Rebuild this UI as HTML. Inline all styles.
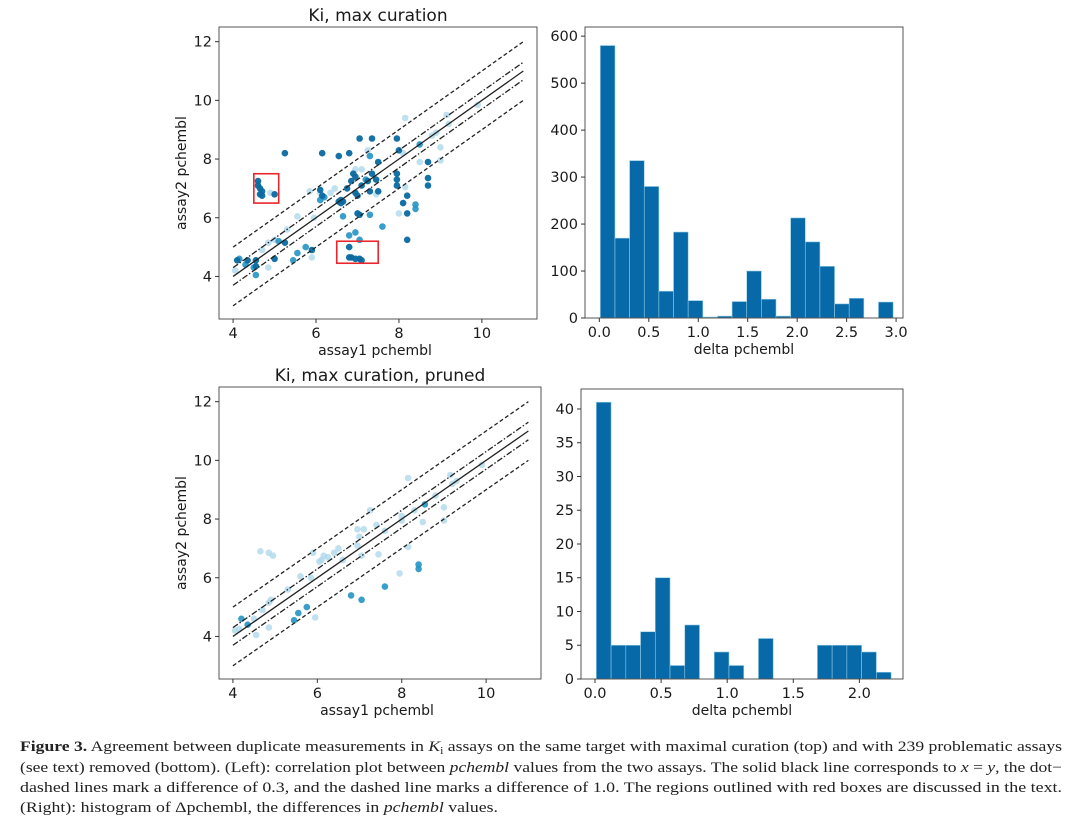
<!DOCTYPE html>
<html><head><meta charset="utf-8">
<style>
html,body{margin:0;padding:0;background:#fff;}
svg{display:block;}
</style></head>
<body>
<svg id="fig" width="1080" height="821" viewBox="0 0 1080 821" xmlns="http://www.w3.org/2000/svg" font-family="DejaVu Sans, Liberation Sans, sans-serif">
<g id="caption" font-family="Liberation Serif, serif" font-size="15" fill="#222">
<text x="20" y="751" textLength="1042" lengthAdjust="spacingAndGlyphs"><tspan font-weight="bold">Figure 3.</tspan> Agreement between duplicate measurements in <tspan font-style="italic">K</tspan><tspan font-size="10" dy="3">i</tspan><tspan dy="-3"> assays on the same target with maximal curation (top) and with 239 problematic assays</tspan></text>
<text x="20" y="772" textLength="1042" lengthAdjust="spacingAndGlyphs">(see text) removed (bottom). (Left): correlation plot between <tspan font-style="italic">pchembl</tspan> values from the two assays. The solid black line corresponds to <tspan font-style="italic">x</tspan> = <tspan font-style="italic">y</tspan>, the dot−</text>
<text x="20" y="792" textLength="1042" lengthAdjust="spacingAndGlyphs">dashed lines mark a difference of 0.3, and the dashed line marks a difference of 1.0. The regions outlined with red boxes are discussed in the text.</text>
<text x="20" y="812" textLength="478" lengthAdjust="spacingAndGlyphs">(Right): histogram of Δpchembl, the differences in <tspan font-style="italic">pchembl</tspan> values.</text>
</g>
</svg>
<script>
// ---- data ----
const topDark=[[4.6,7.25],[4.6,7.1],[4.65,7.0],[4.7,6.9],[4.65,6.8],[4.7,6.75],[5.0,6.8],[6.8,5.0],[6.8,4.65],[6.85,4.65],[6.95,4.6],[7.05,4.6],[7.1,4.55],[5.25,8.2],[6.15,8.2],[6.55,8.1],[6.8,8.2],[7.05,8.7],[7.35,8.7],[7.95,8.7],[8.0,8.3],[8.7,7.9],[8.7,7.35],[8.7,7.1],[8.1,6.5],[8.2,6.75],[8.2,6.15],[8.2,5.25],[7.5,7.9],[7.35,7.5],[7.45,7.3],[7.5,6.9],[7.3,6.9],[7.25,7.25],[7.1,7.1],[6.95,7.4],[6.9,7.5],[6.85,7.25],[6.75,7.0],[6.95,6.85],[7.0,6.75],[7.0,6.15],[7.05,6.1],[6.55,6.55],[6.6,6.5],[6.65,6.55],[6.6,6.6],[6.1,6.95],[6.15,6.75],[5.9,4.9],[5.25,5.15],[5.0,4.6],[4.55,4.55],[4.35,4.55],[4.1,4.55],[4.55,4.35],[7.95,7.5],[7.95,7.3],[7.95,7.1]];
const topMid=[[6.8,5.4],[6.95,5.5],[7.05,5.25],[7.6,5.7],[8.4,6.45],[8.4,6.3],[7.3,6.1],[5.55,4.8],[5.45,4.55],[5.75,5.0],[5.1,5.2],[4.3,4.4],[4.15,4.6],[4.5,4.3],[7.3,8.1],[7.2,7.3],[8.5,8.5],[6.65,6.05],[6.2,6.7],[6.1,6.6],[4.55,4.05]];
const topLight=[[8.15,9.4],[9.15,9.5],[9.9,9.85],[9.0,8.4],[9.0,7.95],[8.8,8.8],[8.5,7.9],[8.1,8.2],[8.0,6.15],[8.15,7.05],[7.45,6.8],[7.1,7.65],[6.95,7.65],[7.25,8.3],[6.1,6.85],[5.95,6.0],[5.55,6.05],[5.3,5.6],[4.85,5.15],[5.0,5.25],[4.7,4.9],[4.85,4.3],[5.9,4.65],[4.05,4.2],[4.9,6.85],[6.35,6.85],[6.45,7.0],[5.85,6.9],[9.2,9.2],[8.9,8.9]];
const botMid=[[4.35,4.4],[5.55,4.8],[5.45,4.55],[5.75,5.0],[6.8,5.4],[7.05,5.25],[7.6,5.7],[8.4,6.45],[8.4,6.3],[8.55,8.5],[4.2,4.6]];
const botLight=[[4.65,6.9],[4.85,6.85],[4.95,6.75],[8.15,9.4],[9.15,9.5],[9.9,9.85],[9.0,8.4],[9.0,7.95],[8.8,8.8],[8.5,7.9],[8.0,8.1],[8.0,7.95],[8.15,7.05],[7.95,6.15],[7.45,6.8],[7.4,7.8],[7.1,7.65],[6.95,7.65],[7.25,8.3],[7.0,7.4],[6.95,7.1],[7.05,6.75],[6.5,7.0],[6.4,6.85],[6.1,6.6],[6.15,6.75],[6.25,6.7],[6.05,6.55],[5.9,6.85],[5.85,6.0],[5.6,6.05],[5.3,5.6],[4.85,5.15],[4.9,5.25],[4.7,4.9],[4.85,4.3],[5.95,4.65],[4.05,4.2],[4.5,4.6],[4.55,4.05],[4.15,4.25],[9.2,9.2],[9.3,9.3],[8.3,8.3],[6.6,6.6],[7.6,7.6]];
const histTopCounts=[580,170,335,280,57,183,37,2,4,35,100,40,4,213,162,110,30,42,0,34];
const histTopStart=0.01, histTopWidth=0.148;
const histTopTicks=["0.0","0.5","1.0","1.5","2.0","2.5","3.0"];
const histTopYTicks=[0,100,200,300,400,500,600];
const histBotCounts=[41,5,5,7,15,2,8,0,4,2,0,6,0,0,0,5,5,5,4,1];
const histBotStart=0.01, histBotWidth=0.1115;
const histBotTicks=["0.0","0.5","1.0","1.5","2.0"];
const histBotYTicks=[0,5,10,15,20,25,30,35,40];
const scatterTicksX=[4,6,8,10];
const scatterTicksY=[4,6,8,10,12];

const NS="http://www.w3.org/2000/svg";
const svg=document.getElementById('fig');
function el(tag,attrs,parent){const e=document.createElementNS(NS,tag);for(const k in attrs)e.setAttribute(k,attrs[k]);(parent||svg).appendChild(e);return e;}
function txt(s,attrs,parent){const t=el('text',attrs,parent);t.textContent=s;return t;}
function lin(d0,d1,r0,r1){return v=>r0+(v-d0)*(r1-r0)/(d1-d0);}

function axesFrame(g,L,T,R,B){
  const f=el('rect',{x:L,y:T,width:R-L,height:B-T,fill:'none',stroke:'#555','stroke-width':1},g);
  
  
}

function scatter(name,L,T,R,B,xs,ys,title,series,boxes){
  const g=el('g',{},svg);
  
  
  const X=lin(xs[0],xs[1],L,R), Y=lin(ys[0],ys[1],B,T);
  const clipId=name+'-clip';
  const cp=el('clipPath',{id:clipId},g);el('rect',{x:L,y:T,width:R-L,height:B-T},cp);
  const pg=el('g',{'clip-path':'url(#'+clipId+')'},g);
  series.forEach(s=>{
    s.pts.forEach(p=>{
      const c=el('circle',{cx:X(p[0]).toFixed(1),cy:Y(p[1]).toFixed(1),r:3.3,fill:s.color,'fill-opacity':s.op},pg);
      
      
    });
  });
  const lines=[[0,'none','solid-identity-line'],[0.3,'6 2 1.5 2','dashdot-line-plus'],[-0.3,'6 2 1.5 2','dashdot-line-minus'],[1,'4 2.5','dashed-line-plus'],[-1,'4 2.5','dashed-line-minus']];
  lines.forEach(l=>{
    const ln=el('line',{x1:X(4),y1:Y(4+l[0]),x2:X(11),y2:Y(11+l[0]),stroke:'#222','stroke-width':1.3,'stroke-dasharray':l[1]},pg);
    
    
  });
  (boxes||[]).forEach(b=>{
    const r=el('rect',{x:X(b[0]),y:Y(b[3]),width:X(b[1])-X(b[0]),height:Y(b[2])-Y(b[3]),fill:'none',stroke:'#e8262b','stroke-width':1.6},g);
    
    
  });
  axesFrame(g,L,T,R,B);
  scatterTicksX.forEach(v=>{
    el('line',{x1:X(v),y1:B,x2:X(v),y2:B+4,stroke:'#333'},g);
    const t=txt(String(v),{x:X(v),y:B+19,'font-size':14.5,'text-anchor':'middle',fill:'#1a1a1a'},g);
    
    
  });
  scatterTicksY.forEach(v=>{
    el('line',{x1:L-4,y1:Y(v),x2:L,y2:Y(v),stroke:'#333'},g);
    const t=txt(String(v),{x:L-7,y:Y(v)+5,'font-size':14.5,'text-anchor':'end',fill:'#1a1a1a'},g);
    
    
  });
  const xt=txt('assay1 pchembl',{x:(L+R)/2-3,y:B+36,'font-size':14,'text-anchor':'middle',fill:'#1a1a1a'},g);
  
  
  const cy=(T+B)/2;
  const yt=txt('assay2 pchembl',{x:0,y:0,'font-size':14,'text-anchor':'middle',fill:'#1a1a1a',transform:'translate('+(L-33)+','+cy+') rotate(-90)'},g);
  
  
  const tt=txt(title,{x:(L+R)/2,y:T-6,'font-size':17,'text-anchor':'middle',fill:'#1a1a1a'},g);
  
  
}

function hist(name,L,T,R,B,xs,ys,counts,start,w,xticks,yticks){
  const g=el('g',{},svg);
  
  
  const X=lin(xs[0],xs[1],L,R), Y=lin(ys[0],ys[1],B,T);
  counts.forEach((c,i)=>{
    if(c<=0)return;
    const x0=X(start+i*w),x1=X(start+(i+1)*w);
    const r=el('rect',{x:x0,y:Y(c),width:x1-x0,height:B-Y(c),fill:'#0769a8',stroke:'#8fcbe6','stroke-width':0.6},g);
    
    
  });
  axesFrame(g,L,T,R,B);
  xticks.forEach(s=>{
    const v=parseFloat(s);
    el('line',{x1:X(v),y1:B,x2:X(v),y2:B+4,stroke:'#333'},g);
    const t=txt(s,{x:X(v),y:B+19,'font-size':14.5,'text-anchor':'middle',fill:'#1a1a1a'},g);
    
    
  });
  yticks.forEach(v=>{
    el('line',{x1:L-4,y1:Y(v),x2:L,y2:Y(v),stroke:'#333'},g);
    const t=txt(String(v),{x:L-7,y:Y(v)+5,'font-size':14.5,'text-anchor':'end',fill:'#1a1a1a'},g);
    
    
  });
  const xt=txt('delta pchembl',{x:(L+R)/2,y:B+36,'font-size':14,'text-anchor':'middle',fill:'#1a1a1a'},g);
  
  
}

const dark='#0a6aa1', mid='#2394c4', light='#a9d6ea';
scatter('scatter-max-curation',219,27,537,319,[3.66,11.33],[2.55,12.5],'Ki, max curation',
  [{name:'light-point',pts:topLight,color:light,op:0.75},{name:'medium-point',pts:topMid,color:mid,op:0.9},{name:'dark-point',pts:topDark,color:dark,op:0.95}],
  [[4.5,5.1,6.5,7.5],[6.5,7.5,4.45,5.2]]);
scatter('scatter-pruned',219,387,541,679,[3.67,11.3],[2.55,12.5],'Ki, max curation, pruned',
  [{name:'light-point',pts:botLight,color:light,op:0.75},{name:'medium-point',pts:botMid,color:mid,op:0.9}],[]);
hist('histogram-max-curation',585,27,903,318,[-0.145,3.07],[0,619.5],histTopCounts,histTopStart,histTopWidth,histTopTicks,histTopYTicks);
hist('histogram-pruned',581,389,903,679,[-0.106,2.33],[0,42.96],histBotCounts,histBotStart,histBotWidth,histBotTicks,histBotYTicks);
</script>
</body></html>
